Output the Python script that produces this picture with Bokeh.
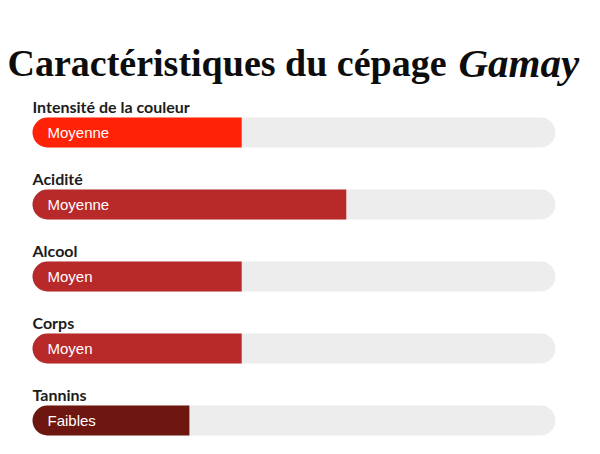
from bokeh.plotting import figure
from bokeh.models import Range1d, ColumnDataSource, Label
from bokeh.core.properties import value
from bokeh.embed import file_html
from bokeh.resources import INLINE

categories = ["Intensité de la couleur", "Acidité", "Alcool", "Corps", "Tannins"]
scores = [4, 6, 4, 4, 3]
levels = ["Moyenne", "Moyenne", "Moyen", "Moyen", "Faibles"]
colors = ["#FF2207", "#B8292A", "#B8292A", "#B8292A", "#6E1710"]
max_score = 10

W, H = 600, 454
px_per_unit = 52.3
x0_px = 32
row_px = 72
row0_px = 132

rows = list(range(len(categories)))
src = ColumnDataSource(dict(
    y=rows, cat=categories, score=scores, level=levels, color=colors,
    zero=[0] * len(rows), full=[max_score] * len(rows),
))

p = figure(width=W, height=H, output_backend="svg", toolbar_location=None,
           x_range=Range1d(-x0_px / px_per_unit, (W - x0_px) / px_per_unit),
           y_range=Range1d((H - row0_px) / row_px, -row0_px / row_px),
           min_border=0, outline_line_color=None)
p.axis.visible = False
p.grid.visible = False
p.background_fill_color = "white"
p.border_fill_color = "white"

bh = 30 / row_px
p.hbar(y="y", left="zero", right="full", height=bh, source=src,
       fill_color="#EDEDED", line_color=None, border_radius=15)
p.hbar(y="y", left="zero", right="score", height=bh, source=src,
       fill_color="color", line_color=None, border_radius=(15, 0, 0, 15))

p.text(x="zero", y="y", text="level", source=src, x_offset=15,
       text_baseline="middle", text_color="white", text_font=value("Liberation Sans"),
       text_font_size="15px")
p.text(x="zero", y="y", text="cat", source=src, y_offset=-26,
       text_baseline="middle", text_color="#1c1c1c", text_font=value("Lato"),
       text_font_style="bold", text_font_size="16px")

t1 = Label(x=7, y=H - 62, x_units="screen", y_units="screen", text="Caractéristiques du cépage",
           text_font="Liberation Serif", text_font_style="bold", text_font_size="38px",
           text_color="#0d0d0d", text_baseline="alphabetic")
t2 = Label(x=458, y=H - 62, x_units="screen", y_units="screen", text="Gamay",
           text_font="Liberation Serif", text_font_style="bold italic", text_font_size="41px",
           text_color="#0d0d0d", text_baseline="alphabetic")
p.add_layout(t1)
p.add_layout(t2)

open("out.html", "w").write(file_html(p, INLINE))
